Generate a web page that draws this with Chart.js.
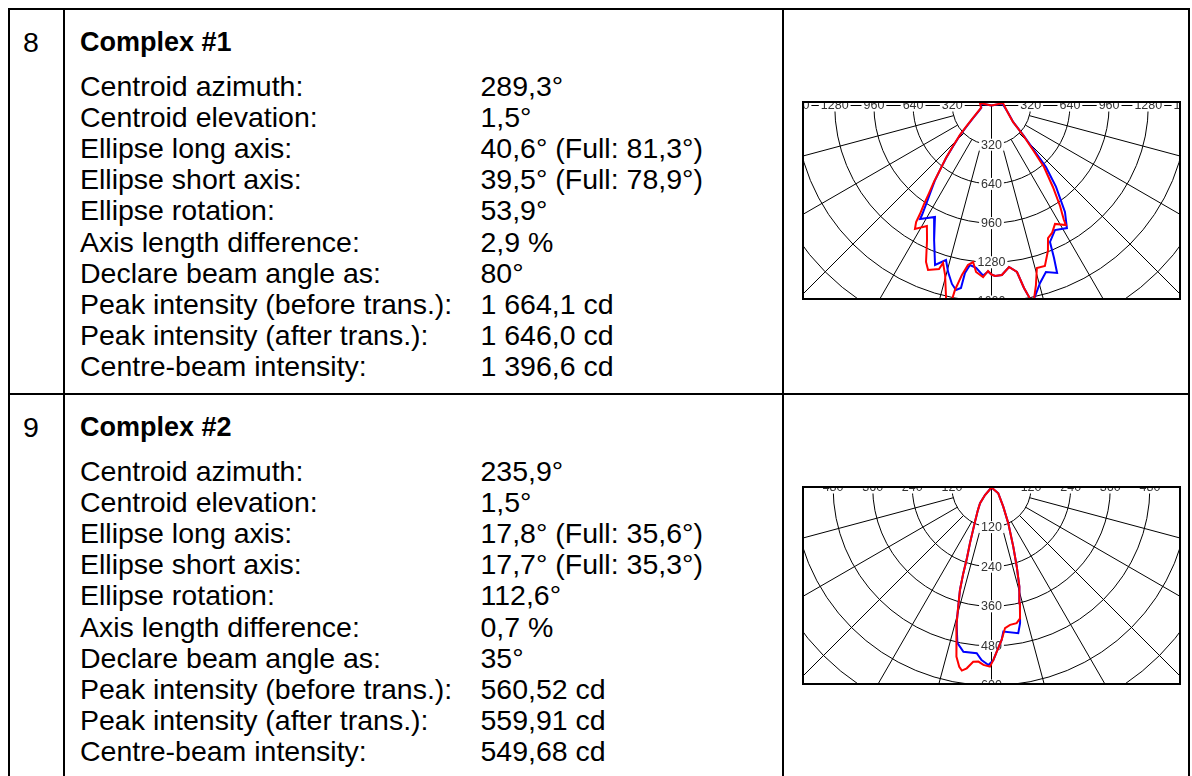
<!DOCTYPE html>
<html>
<head>
<meta charset="utf-8">
<script src="https://cdn.jsdelivr.net/npm/chart.js@4"></script>
<style>
  html, body { margin: 0; padding: 0; background: #fff; }
  body { width: 1192px; height: 776px; position: relative; overflow: hidden;
         font-family: "Liberation Sans", Arial, sans-serif; color: #000; }
  .rule { position: absolute; background: #000; }
  .num { position: absolute; font-size: 28.5px; line-height: 28.5px; }
  .title { position: absolute; font-size: 27px; line-height: 27px; font-weight: bold; }
  .block { position: absolute; font-size: 28.5px; line-height: 31.2px; white-space: pre; }
  .plot { position: absolute; left: 802px; width: 379px; height: 199px; }
  .plot canvas { position: absolute; left: 0; top: 0; }
  .frame { position: absolute; left: 0; top: 0; width: 379px; height: 199px;
           border: 2px solid #000; box-sizing: border-box; pointer-events: none; }
</style>
</head>
<body>
<div id="page"></div>
<script>
// text of the two table rows
const rowNumbers = ["8", "9"];
const rowTitles = ["Complex #1", "Complex #2"];
const fieldLabels = [
  "Centroid azimuth:", "Centroid elevation:", "Ellipse long axis:", "Ellipse short axis:",
  "Ellipse rotation:", "Axis length difference:", "Declare beam angle as:",
  "Peak intensity (before trans.):", "Peak intensity (after trans.):", "Centre-beam intensity:"
];
const complex1Values = ["289,3°", "1,5°", "40,6° (Full: 81,3°)", "39,5° (Full: 78,9°)", "53,9°",
  "2,9 %", "80°", "1 664,1 cd", "1 646,0 cd", "1 396,6 cd"];
const complex2Values = ["235,9°", "1,5°", "17,8° (Full: 35,6°)", "17,7° (Full: 35,3°)", "112,6°",
  "0,7 %", "35°", "560,52 cd", "559,91 cd", "549,68 cd"];

// polar grid: ring values (cd) and spoke angles (deg from nadir)
const complex1Rings = [320, 640, 960, 1280, 1600, 1920, 2240];
const complex2Rings = [120, 240, 360, 480, 600, 720, 840];
const spokeAngles = [-90, -75, -60, -45, -30, -15, 0, 15, 30, 45, 60, 75, 90];

// Complex #1 curves: gamma (deg, left side negative) and intensity (cd)
const c1RedGamma = [-90, -102, -77, -63, -55, -50, -47, -43.5, -41, -38.6, -37, -35.5, -34.4, -33.4,
  -32.9, -31.8, -28.2, -25.6, -22.7, -21.1, -17.8, -17.1, -15.3, -13.2, -12.2, -11.5, -11.2, -9.9,
  -8.4, -6.7, -5.3, -2.8, -1.2, 0, 1.2, 3.5, 6.2, 8.7, 10.1, 11.3, 12, 12.4, 13.9, 15.6, 18.4, 21.2,
  23.1, 25.4, 28.2, 31.9, 32.3, 34.3, 37, 40.5, 43, 46.9, 52.5, 65.6, 102, 90];
const c1RedCd = [0, 96, 88, 133, 194, 272, 352, 456, 567, 674, 781, 878, 975, 1061,
  1133, 1186, 1116, 1218, 1385, 1439, 1402, 1345, 1435, 1623, 1664, 1612, 1535, 1404,
  1316, 1287, 1365, 1402, 1351, 1380, 1392, 1386, 1326, 1375, 1513, 1610, 1646, 1617, 1510, 1377, 1381, 1274,
  1176, 1152, 1097, 1149, 1106, 993, 833, 660, 497, 352, 221, 148, 96, 0];
const c1BlueGamma = [-90, -100, -77, -63, -55, -50, -47, -43.5, -41, -38.8, -37, -35.2, -33.6, -32.4,
  -32.2, -26.9, -23.1, -19.5, -16.4, -14.6, -12.5, -10.9, -9.5, -9.0, -7.7, -5.4, -2.8, -1.2, 0,
  1.2, 3.5, 6.2, 8.7, 10.1, 11.3, 12, 12.4, 15.3, 18.1, 21.4, 22.3, 23.2, 27.0, 31.6, 34.6, 38.4,
  41.5, 43.5, 46.9, 52.5, 65.6, 100, 90];
const c1BlueCd = [0, 90, 85, 128, 188, 265, 345, 448, 558, 664, 770, 862, 960, 1059,
  1095, 1020, 1194, 1381, 1315, 1405, 1492, 1534, 1510, 1384, 1314, 1332, 1390, 1355, 1380,
  1392, 1386, 1326, 1375, 1513, 1610, 1646, 1617, 1502, 1430, 1468, 1345, 1212, 1141, 1175, 1056, 848,
  671, 505, 355, 224, 150, 90, 0];

// Complex #2 curves
const c2RedGamma = [-90, -40.9, -36.0, -31.0, -25.8, -23.5, -21.2, -19.2, -18.2, -17.1, -15.6, -14.4,
  -13.1, -11.6, -10.2, -9.2, -7.8, -6.0, -4.3, -2.6, -0.5, 0.6, 1.8, 3.8, 5.5, 7.7, 10.5, 12.3,
  13.8, 15.7, 17.7, 20.2, 25.1, 31.6, 49.5, 90];
const c2RedCd = [0, 30, 59, 80, 115, 140, 180, 226, 274, 325, 375, 425,
  474, 523, 552, 562, 553, 531, 529, 538, 543, 523, 498, 463, 428, 420, 418, 406,
  361, 312, 252, 191, 120, 68, 27, 0];
const c2BlueGamma = [-90, -40.9, -36.0, -31.0, -25.8, -23.5, -21.2, -19.2, -18.2, -17.1, -15.6, -14.4,
  -12.4, -9.7, -5.1, -3.3, -1.0, 0.6, 1.8, 3.8, 4.7, 10.4, 11.9, 13.8, 15.7, 17.7, 20.2, 25.1,
  31.6, 49.5, 90];
const c2BlueCd = [0, 30, 59, 80, 115, 140, 180, 226, 274, 325, 375, 425,
  482, 505, 504, 524, 538, 523, 498, 463, 438, 449, 420, 361, 312, 252, 191, 120,
  68, 27, 0];

const page = document.getElementById("page");

function addDiv(cls, left, top, text, extra) {
  const d = document.createElement("div");
  d.className = cls;
  d.style.left = left + "px";
  d.style.top = top + "px";
  if (text !== undefined) d.textContent = text;
  if (extra) Object.assign(d.style, extra);
  page.appendChild(d);
  return d;
}

// table rules
addDiv("rule", 8, 8, undefined, { width: "1182px", height: "2px" });
addDiv("rule", 8, 393, undefined, { width: "1182px", height: "2px" });
addDiv("rule", 8, 8, undefined, { width: "2px", height: "768px" });
addDiv("rule", 63, 8, undefined, { width: "2px", height: "768px" });
addDiv("rule", 782, 8, undefined, { width: "2px", height: "768px" });
addDiv("rule", 1188, 8, undefined, { width: "2px", height: "768px" });

const rowValues = [complex1Values, complex2Values];
rowNumbers.forEach((n, i) => {
  const off = i * 385;
  addDiv("num", 23, 27.6 + off, n);
  addDiv("title", 80, 28.8 + off, rowTitles[i]);
  addDiv("block", 80, 70.5 + off, fieldLabels.join("\n"));
  addDiv("block", 480.5, 70.5 + off, rowValues[i].join("\n"));
});

function toPoints(gammas, cds) {
  return gammas.map((g, i) => {
    const a = g * Math.PI / 180;
    return { x: cds[i] * Math.sin(a), y: -cds[i] * Math.cos(a) };
  });
}

const polarGrid = {
  id: "polarGrid",
  beforeDatasetsDraw(chart, args, opts) {
    const { ctx, chartArea } = chart;
    const xs = chart.scales.x, ys = chart.scales.y;
    const cx = xs.getPixelForValue(0), cy = ys.getPixelForValue(0);
    const unit = xs.getPixelForValue(1000) - cx;
    const rings = opts.rings;
    const r0 = rings[0] * unit / 1000;
    ctx.save();
    ctx.beginPath();
    ctx.rect(chartArea.left, chartArea.top, chartArea.width, chartArea.height);
    ctx.clip();
    ctx.strokeStyle = "#000";
    ctx.lineWidth = 1;
    rings.forEach(v => {
      ctx.beginPath();
      ctx.arc(cx, cy, v * unit / 1000, 0, Math.PI);
      ctx.stroke();
    });
    spokeAngles.forEach(g => {
      const a = g * Math.PI / 180;
      const inner = (g === 0 || Math.abs(g) === 90) ? 0 : r0;
      const outer = 2000;
      ctx.beginPath();
      ctx.moveTo(cx + inner * Math.sin(a), cy + inner * Math.cos(a));
      ctx.lineTo(cx + outer * Math.sin(a), cy + outer * Math.cos(a));
      ctx.stroke();
    });
    ctx.font = '12.5px "Liberation Sans", Arial, sans-serif';
    ctx.textAlign = "center";
    ctx.textBaseline = "middle";
    const label = (t, x, y) => {
      const w = ctx.measureText(t).width;
      ctx.fillStyle = "#fff";
      ctx.fillRect(x - w / 2 - 2, y - 6, w + 4, 12);
      ctx.fillStyle = "#333";
      ctx.fillText(t, x, y + 0.5);
    };
    rings.forEach(v => {
      const r = v * unit / 1000;
      label(String(v), cx, cy + r);
      label(String(v), cx - r, cy);
      label(String(v), cx + r, cy);
    });
    ctx.restore();
  }
};

function makePolar(top, cfg) {
  const wrap = addDiv("plot", 802, top);
  const canvas = document.createElement("canvas");
  canvas.width = 379;
  canvas.height = 199;
  wrap.appendChild(canvas);
  const frame = document.createElement("div");
  frame.className = "frame";
  wrap.appendChild(frame);

  const k = cfg.pxPerCd;
  new Chart(canvas.getContext("2d"), {
    type: "scatter",
    data: {
      datasets: [
        { data: toPoints(cfg.redGamma, cfg.redCd), borderColor: "#ff0000" },
        { data: toPoints(cfg.blueGamma, cfg.blueCd), borderColor: "#0000ff" }
      ].map(d => Object.assign(d, {
        showLine: true, borderWidth: 2, pointRadius: 0, tension: 0, fill: false
      }))
    },
    options: {
      responsive: false,
      animation: false,
      events: [],
      layout: { padding: 0 },
      plugins: { legend: { display: false }, tooltip: { enabled: false },
                 polarGrid: { rings: cfg.rings } },
      scales: {
        x: { type: "linear", display: false, min: -189.5 / k, max: 189.5 / k },
        y: { type: "linear", display: false, min: -(199 - cfg.centerOffset) / k, max: cfg.centerOffset / k }
      }
    },
    plugins: [polarGrid]
  });
}

makePolar(101, { pxPerCd: 0.1225, centerOffset: 4.5, rings: complex1Rings,
  redGamma: c1RedGamma, redCd: c1RedCd, blueGamma: c1BlueGamma, blueCd: c1BlueCd });
makePolar(486, { pxPerCd: 0.33, centerOffset: 1.5, rings: complex2Rings,
  redGamma: c2RedGamma, redCd: c2RedCd, blueGamma: c2BlueGamma, blueCd: c2BlueCd });
</script>
</body>
</html>
